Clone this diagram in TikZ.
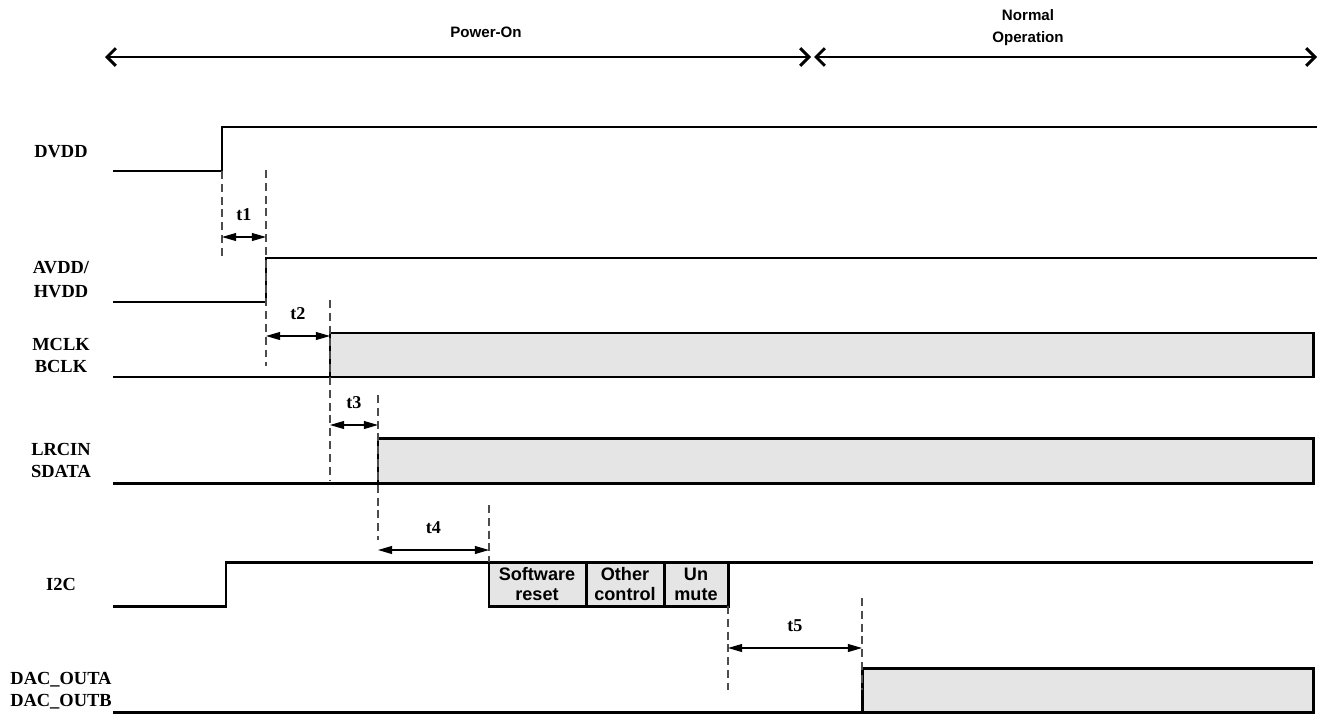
\documentclass[tikz,border=0pt]{standalone}
\usepackage{fontspec}
\setmainfont{Liberation Serif}
\setsansfont{Liberation Sans}
\usetikzlibrary{arrows.meta,calc}

\tikzset{
  sig/.style={line width=1.7pt, line join=miter},
  busy/.style={line width=1.7pt, fill=gray!20},
  guide/.style={gray!60!black, line width=0.6pt, dash pattern=on 4.5pt off 2.8pt},
  dim/.style={{Triangle[length=8pt,width=4.5pt]}-{Triangle[length=8pt,width=4.5pt]}, line width=0.6pt},
  phase/.style={{Straight Barb[length=5pt,width=10pt]}-{Straight Barb[length=5pt,width=10pt]}, line width=1.7pt},
  signame/.style={font=\bfseries\fontsize{10.5}{12}\selectfont, inner sep=0pt},
  dimtxt/.style={font=\bfseries\fontsize{10.3}{12}\selectfont, inner sep=0pt},
  boxtxt/.style={font=\sffamily\bfseries\fontsize{10.3}{11.3}\selectfont, align=center, inner sep=0pt},
  phasetxt/.style={font=\sffamily\bfseries\fontsize{8.6}{12.5}\selectfont, align=center, inner sep=0pt},
}

\begin{document}
\begin{tikzpicture}[x=0.02cm, y=-0.02cm]
    \useasboundingbox (0,0) rectangle (1322,717);

    % Phases
    \coordinate (pon1) at (105,57);
    \coordinate (pon2) at (811,57);
    \coordinate (nop1) at (814,57);
    \coordinate (nop2) at (1317,57);
    \draw[phase] (pon1) -- (pon2);
    \draw[phase] (nop1) -- (nop2);
    \node[phasetxt] (pontxt) at (486,32) {Power-On};
    \node[phasetxt] (noptxt) at (1028,28) {Normal\\Operation};

    % Signal names
    \node[signame] (dvdd) at (61,152) {DVDD};
    \node[signame] (avdd) at (61,268) {AVDD/};
    \node[signame] (hvdd) at (61,292) {HVDD};
    \node[signame] (mclk) at (61,344) {MCLK};
    \node[signame] (bclk) at (61,366) {BCLK};
    \node[signame] (lrcin) at (61,449) {LRCIN};
    \node[signame] (sdata) at (61,471) {SDATA};
    \node[signame] (iic) at (61,584) {I2C};
    \node[signame] (outa) at (61,680) {DAC\_OUTA};
    \node[signame] (outb) at (61,702) {DAC\_OUTB};

    % DVDD
    \draw[sig] (113,171) -- (222,171) -- (222,127) -- (1317,127);

    % AVDD/HVDD
    \draw[sig] (113,302) -- (266,302) -- (266,258) -- (1317,258);

    % MCLK/BCLK
    \draw[sig] (113,377) -- (330,377);
    \draw[busy] (330,333) rectangle (1313,377);

    % LRCIN/SDATA
    \draw[sig] (113,483) -- (378,483);
    \draw[busy] (378,438) rectangle (1313,483);

    % I2C with the register writes
    \draw[sig] (113,606) -- (226,606) -- (226,562) -- (1313,562);
    \draw[busy] (489,562) rectangle (728,606);
    \draw[sig] (586,562) -- (586,606);
    \draw[sig] (664,562) -- (664,606);
    \node[boxtxt] (swrst) at (537,584) {Software\\reset};
    \node[boxtxt] (other) at (625,584) {Other\\control};
    \node[boxtxt] (unmute) at (696,584) {Un\\mute};

    % DAC_OUTA/DAC_OUTB
    \draw[sig] (113,712) -- (862,712);
    \draw[busy] (862,668) rectangle (1313,712);

    % Guides
    \foreach \x/\ya/\yb in {222/171/258, 266/170/366, 330/300/480, 378/395/540,
                            489/505/562, 728/606/690, 862/598/690}
        \draw[guide] (\x,\ya) -- (\x,\yb);

    % Delays
    \foreach \a/\b/\y/\name in {222/266/237/t1, 266/330/336/t2, 330/378/425/t3,
                                378/489/550/t4, 728/862/648/t5} {
        \coordinate (\name a) at (\a,\y);
        \coordinate (\name b) at (\b,\y);
        \draw[dim] (\name a) -- (\name b);
        \node[dimtxt] (\name) at ($(\name a)!0.5!(\name b)+(0,-22)$) {\name};
    }
\end{tikzpicture}
\end{document}
